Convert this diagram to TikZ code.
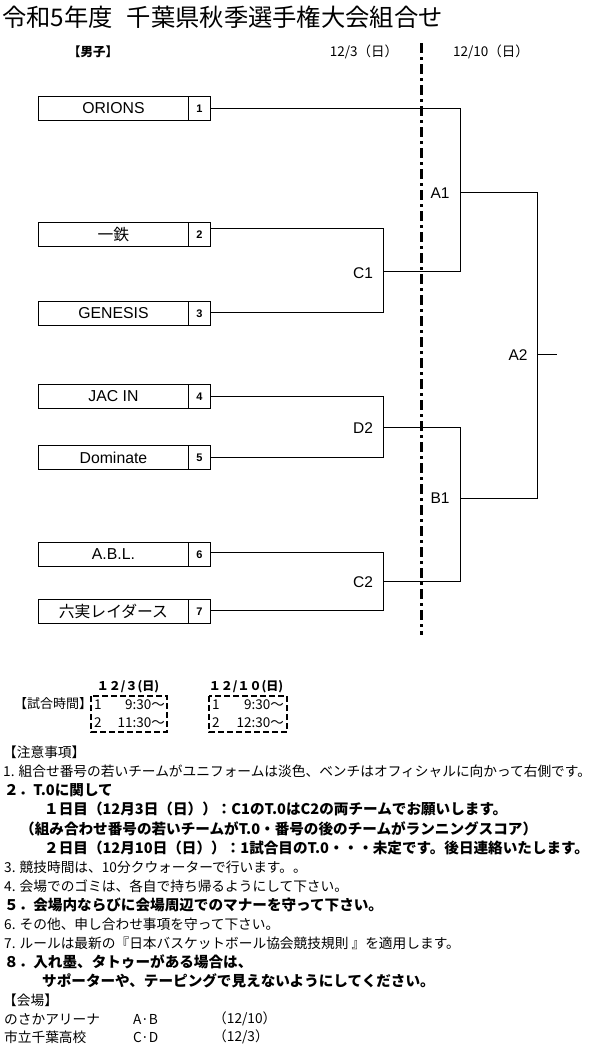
\documentclass[tikz,border=0pt]{standalone}
\usepackage{fontspec}
\setmainfont{Liberation Sans}
\newfontfamily\jp{Noto Sans CJK JP}
\begin{document}
\begin{tikzpicture}[x=1pt,y=-1pt,
  line/.style={line width=0.9pt},
  team/.style={draw,line width=0.9pt,minimum height=24pt,inner sep=0pt,anchor=north west},
  seed/.style={draw,line width=0.9pt,minimum height=24pt,minimum width=22pt,inner sep=0pt,anchor=north west,font=\bfseries\fontsize{11}{13}\selectfont},
  game/.style={font=\fontsize{15.5}{17}\selectfont,inner sep=0pt},
  note/.style={anchor=west,inner sep=0pt,font=\jp\fontsize{13.7}{15}\selectfont},
  bnote/.style={anchor=west,inner sep=0pt,font=\jp\bfseries\fontsize{14.6}{16}\selectfont},
  tbox/.style={draw,line width=2.6pt,dash pattern=on 6pt off 3pt},
  ttext/.style={inner sep=0pt,font=\jp\fontsize{13.5}{15}\selectfont}]
\useasboundingbox (0,0) rectangle (596,1047);
% title
\node[anchor=west,inner sep=0pt,font=\jp\fontsize{24.3}{27}\selectfont] (title) at (2,17) {令和5年度\hspace{14pt}千葉県秋季選手権大会組合せ};
\node[inner sep=0pt,font=\jp\bfseries\fontsize{12.5}{14}\selectfont] (men) at (93,52) {【男子】};
\node[inner sep=0pt,font=\jp\fontsize{13.5}{15}\selectfont] (d1) at (364,52) {12/3（日）};
\node[inner sep=0pt,font=\jp\fontsize{13.5}{15}\selectfont] (d2) at (491,52) {12/10（日）};
% dashed divider
\coordinate (dt) at (421,43);
\coordinate (db) at (421,635);
\draw[line width=3pt,dash pattern=on 10pt off 4pt on 3pt off 4pt] (dt) -- (db);
% teams
\foreach \i/\name/\top/\ly in {1/ORIONS/96/108, 2/一鉄/222/228, 3/GENESIS/301/312, 4/JAC IN/384/396, 5/Dominate/445/457, 6/A.B.L./542/552, 7/六実レイダース/599/610}{
  \node[team,minimum width=150pt] (t\i) at (38,\top) {\fontsize{15.8}{17}\selectfont\jp\ifnum\i=2\relax\else\ifnum\i=7\relax\else\fontspec{Liberation Sans}\fi\fi \name};
  \node[seed] (s\i) at (188,\top) {\i};
  \coordinate (o\i) at (210,\ly);
}
% bracket coordinates
\coordinate (c1a) at (383,228);
\coordinate (c1b) at (383,312);
\coordinate (c1m) at (383,271);
\coordinate (d2a) at (383,396);
\coordinate (d2b) at (383,457);
\coordinate (d2m) at (383,427);
\coordinate (c2a) at (383,552);
\coordinate (c2b) at (383,610);
\coordinate (c2m) at (383,581);
\coordinate (a1a) at (460,108);
\coordinate (a1b) at (460,271);
\coordinate (a1m) at (460,192);
\coordinate (b1a) at (460,427);
\coordinate (b1b) at (460,581);
\coordinate (b1m) at (460,498);
\coordinate (a2a) at (537,192);
\coordinate (a2b) at (537,498);
\coordinate (a2m) at (537,354);
\coordinate (a2e) at (557,354);
\draw[line] (o1) -- (a1a) -- (a1b) -- (c1m);
\draw[line] (o2) -- (c1a) -- (c1b) -- (o3);
\draw[line] (o4) -- (d2a) -- (d2b) -- (o5);
\draw[line] (o6) -- (c2a) -- (c2b) -- (o7);
\draw[line] (d2m) -- (b1a) -- (b1b) -- (c2m);
\draw[line] (a1m) -- (a2a) -- (a2b) -- (b1m);
\draw[line] (a2m) -- (a2e);
% game labels
\node[game] (lC1) at (363,273) {C1};
\node[game] (lD2) at (363,428) {D2};
\node[game] (lC2) at (363,582) {C2};
\node[game] (lA1) at (440,193) {A1};
\node[game] (lB1) at (440,498) {B1};
\node[game] (lA2) at (518,355) {A2};
% match times
\node[ttext,font=\jp\fontsize{13}{14}\selectfont,anchor=west] (st) at (14,704) {【試合時間】};
\node[ttext,font=\jp\bfseries\fontsize{12}{13}\selectfont] (h1) at (128,687) {１２/３(日)};
\node[ttext,font=\jp\bfseries\fontsize{12}{13}\selectfont] (h2) at (246,687) {１２/１０(日)};
\draw[tbox] (91,696) rectangle (167,732);
\draw[tbox] (209,696) rectangle (287,732);
\node[ttext,anchor=west] (n11) at (94,705) {1};
\node[ttext,anchor=east] (m11) at (165,705) {9:30〜};
\node[ttext,anchor=west] (n12) at (94,723) {2};
\node[ttext,anchor=east] (m12) at (165,723) {11:30〜};
\node[ttext,anchor=west] (n21) at (212,705) {1};
\node[ttext,anchor=east] (m21) at (284,705) {9:30〜};
\node[ttext,anchor=west] (n22) at (212,723) {2};
\node[ttext,anchor=east] (m22) at (284,723) {12:30〜};
% notes
\node[note] (l0) at (3,752) {【注意事項】};
\node[note] (l1) at (3,771) {1. 組合せ番号の若いチームがユニフォームは淡色、ベンチはオフィシャルに向かって右側です。};
\node[bnote] (l2) at (4,790) {２．T.0に関して};
\node[bnote] (l3) at (44,809) {１日目（12月3日（日））：C1のT.0はC2の両チームでお願いします。};
\node[bnote] (l4) at (20,829) {（組み合わせ番号の若いチームがT.0・番号の後のチームがランニングスコア）};
\node[bnote] (l5) at (44,848) {２日目（12月10日（日））：1試合目のT.0・・・未定です。後日連絡いたします。};
\node[note] (l6) at (4,867) {3. 競技時間は、10分クウォーターで行います。。};
\node[note] (l7) at (4,886) {4. 会場でのゴミは、各自で持ち帰るようにして下さい。};
\node[bnote] (l8) at (4,905) {５．会場内ならびに会場周辺でのマナーを守って下さい。};
\node[note] (l9) at (4,924) {6. その他、申し合わせ事項を守って下さい。};
\node[note] (l10) at (4,943) {7. ルールは最新の『日本バスケットボール協会競技規則 』を適用します。};
\node[bnote] (l11) at (4,962) {８．入れ墨、タトゥーがある場合は、};
\node[bnote] (l12) at (42,981) {サポーターや、テーピングで見えないようにしてください。};
\node[note] (l13) at (3,1000) {【会場】};
\node[note] (v1) at (4,1019) {のさかアリーナ};
\node[note] (v1b) at (133,1019) {A·B};
\node[note] (v1c) at (213,1019) {（12/10）};
\node[note] (v2) at (4,1037) {市立千葉高校};
\node[note] (v2b) at (133,1037) {C·D};
\node[note] (v2c) at (213,1037) {（12/3）};
\end{tikzpicture}
\end{document}
